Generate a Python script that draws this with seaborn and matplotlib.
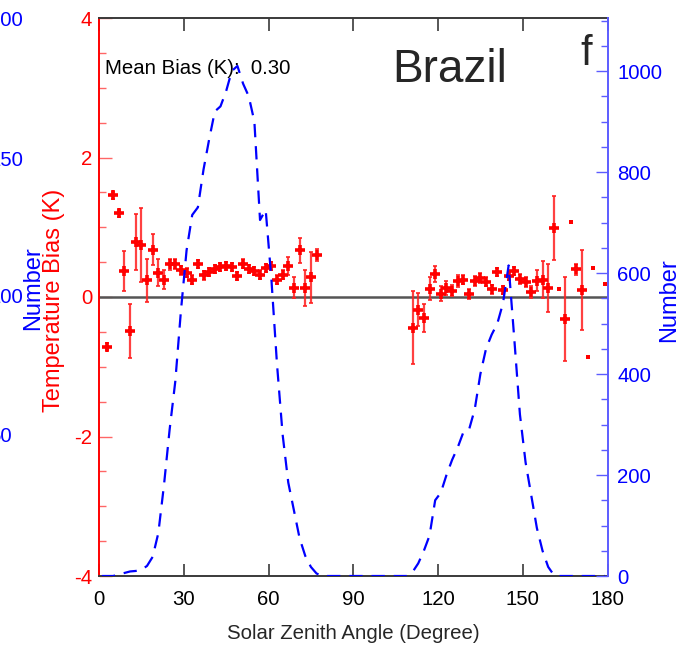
import matplotlib
matplotlib.use("Agg")
import matplotlib.pyplot as plt
from matplotlib import font_manager
from matplotlib.ticker import MultipleLocator
import pandas as pd
import seaborn as sns

# ---- temperature bias per 2-degree solar-zenith-angle bin ----
sza_bins = [3, 5, 7, 9, 11, 13, 15, 17, 19, 21, 23, 25, 27, 29, 31, 33, 35, 37, 39,
            41, 43, 45, 47, 49, 51, 53, 55, 57, 59, 61, 63, 65, 67, 69, 71, 73, 75, 77,
            111, 113, 115, 117, 119, 121, 123, 125, 127, 129, 131, 133, 135, 137, 139,
            141, 143, 145, 147, 149, 151, 153, 155, 157, 159, 161, 165, 169, 171]
bias = [-0.71, 1.46, 1.20, 0.37, -0.49, 0.79, 0.74, 0.24, 0.68, 0.35, 0.25, 0.47,
        0.47, 0.38, 0.35, 0.25, 0.47, 0.31, 0.36, 0.40, 0.43, 0.44, 0.43, 0.30, 0.48,
        0.40, 0.37, 0.32, 0.42, 0.44, 0.25, 0.32, 0.44, 0.13, 0.67, 0.13, 0.28, 0.60,
        -0.44, -0.18, -0.30, 0.12, 0.33, 0.05, 0.13, 0.09, 0.23, 0.25, 0.04, 0.23,
        0.27, 0.22, 0.11, 0.36, 0.10, 0.30, 0.37, 0.26, 0.22, 0.07, 0.23, 0.25, 0.13,
        0.99, -0.32, 0.40, 0.10]
bias_err = [0.05, 0.05, 0.05, 0.29, 0.39, 0.40, 0.53, 0.31, 0.22, 0.19, 0.13, 0.08,
            0.07, 0.07, 0.06, 0.06, 0.06, 0.06, 0.06, 0.06, 0.06, 0.06, 0.06, 0.06,
            0.06, 0.06, 0.06, 0.06, 0.06, 0.06, 0.06, 0.06, 0.13, 0.15, 0.18, 0.26,
            0.36, 0.09,
            0.52, 0.24, 0.20, 0.17, 0.11, 0.11, 0.10, 0.08, 0.08, 0.07, 0.07, 0.07,
            0.07, 0.06, 0.06, 0.06, 0.06, 0.06, 0.06, 0.07, 0.07, 0.09, 0.15, 0.27,
            0.35, 0.46, 0.60, 0.08, 0.57]

# bins holding a single match (no spread)
sza_single = [163, 167, 173, 175, 179]
bias_single = [0.11, 1.08, -0.86, 0.41, 0.18]

# ---- number of matches per bin ----
sza_count = list(range(1, 180, 2))
count = [0, 0, 0, 3, 6, 9, 10, 12, 20, 38,
         85, 180, 290, 385, 525, 645, 715, 730, 805, 865,
         920, 930, 960, 1000, 1010, 975, 950, 900, 705, 725,
         590, 420, 280, 185, 130, 75, 40, 18, 5, 0,
         0, 0, 0, 0, 0, 0, 0, 0, 0, 0,
         0, 0, 0, 0, 0, 8, 25, 50, 80, 150,
         165, 200, 230, 255, 285, 290, 330, 400, 450, 478,
         500, 540, 615, 470, 320, 225, 160, 95, 50, 18,
         2, 0, 0, 0, 0, 0, 0, 0, 0, 0]

xticks = [0, 30, 60, 90, 120, 150, 180]
left_ticks = [-4, -2, 0, 2, 4]
right_ticks = [0, 200, 400, 600, 800, 1000]
mean_bias = 0.30

sns.set_style("white")
installed = {f.name for f in font_manager.fontManager.ttflist}
narrow = "Liberation Sans Narrow" if "Liberation Sans Narrow" in installed else "Liberation Sans"
k = 1.0 if narrow == "Liberation Sans Narrow" else 0.84
plt.rcParams["font.family"] = [narrow, "DejaVu Sans"]
plt.rcParams["axes.unicode_minus"] = False

RED = "#ff0000"
BLUE = "#0000ff"
SPINE_BLUE = "#5c5cff"
DARK = "#3a3a3a"
fs = 17.5 * k
REG = ["Liberation Sans", "DejaVu Sans"]

fig = plt.figure(figsize=(6.81, 6.49), dpi=100)
ax = fig.add_axes([99 / 681, 73 / 649, 508.5 / 681, 558 / 649])

df = pd.DataFrame({"sza": sza_bins, "bias": bias, "err": bias_err})
df_single = pd.DataFrame({"sza": sza_single, "bias": bias_single})
df_count = pd.DataFrame({"sza": sza_count, "n": count})

ax.axhline(0, color="#555555", lw=1.8, zorder=1)
ax.errorbar(df["sza"], df["bias"], yerr=df["err"], fmt="none", ecolor="#ff2020",
            elinewidth=1.6, capsize=1.6, capthick=1.4, alpha=0.85, zorder=2)
sns.scatterplot(data=df, x="sza", y="bias", ax=ax, marker="+", s=60,
                linewidth=2.6, color=RED, zorder=3, legend=False)
sns.scatterplot(data=df_single, x="sza", y="bias", ax=ax, marker="s", s=6,
                linewidth=0, color=RED, zorder=3, legend=False)

ax.set_xlim(0, 180)
ax.set_ylim(-4, 4)
ax.set_xticks(xticks)
ax.set_yticks(left_ticks)
ax.yaxis.set_minor_locator(MultipleLocator(0.5))
ax.tick_params(axis="x", which="major", direction="in", top=True, bottom=True,
               length=9, width=1.2, color=DARK, labelsize=fs, labelcolor="black", pad=10)
ax.tick_params(axis="y", which="major", direction="in", left=True, right=False,
               length=9, width=1.0, color="#ff6666", labelsize=fs, labelcolor=RED, pad=5)
ax.tick_params(axis="y", which="minor", direction="in", left=True, right=False,
               length=5, width=1.0, color="#ff6666")
ax.set_xlabel("Solar Zenith Angle (Degree)", fontsize=fs, labelpad=11)
ax.set_ylabel("")
for side in ("top", "bottom"):
    ax.spines[side].set_color(DARK)
    ax.spines[side].set_linewidth(1.4)
ax.spines["left"].set_color(RED)
ax.spines["left"].set_linewidth(1.4)
ax.spines["right"].set_visible(False)

ax2 = ax.twinx()
sns.lineplot(data=df_count, x="sza", y="n", ax=ax2, color=BLUE, linewidth=1.6,
             errorbar=None, legend=False)
ax2.lines[-1].set_dashes((6, 4))
ax2.set_ylim(0, 1105)
ax2.set_yticks(right_ticks)
ax2.yaxis.set_minor_locator(MultipleLocator(50))
ax2.tick_params(axis="y", which="major", direction="in", right=True, left=False,
                length=9, width=1.0, color=SPINE_BLUE, labelsize=fs, labelcolor=BLUE, pad=7)
ax2.tick_params(axis="y", which="minor", direction="in", right=True, left=False,
                length=5, width=1.0, color=SPINE_BLUE)
ax2.set_ylabel("")
ax2.spines["left"].set_visible(False)
ax2.spines["top"].set_visible(False)
ax2.spines["bottom"].set_visible(False)
ax2.spines["right"].set_color(SPINE_BLUE)
ax2.spines["right"].set_linewidth(1.4)

# axis titles
fig.text(54 / 681, 1 - 300 / 649, "Temperature Bias (K)", rotation=90, color=RED,
         fontsize=17, family=REG, ha="center", va="center")
fig.text(669 / 681, 1 - 300 / 649, "Number", rotation=90, color=BLUE,
         fontsize=17, family=REG, ha="center", va="center")

# right-hand axis of the neighbouring panel, cut by the figure edge
fig.text(33 / 681, 1 - 288 / 649, "Number", rotation=90, color=BLUE,
         fontsize=17, family=REG, ha="center", va="center")
for ypix, lab in zip([20, 160, 298, 437], ["200", "150", "100", "50"]):
    fig.text(-10.5 / 681, 1 - ypix / 649, lab, color=BLUE, fontsize=fs,
             ha="left", va="center")

ax.text(0.012, 0.910, f"Mean Bias (K):  {mean_bias:.2f}", transform=ax.transAxes,
        fontsize=fs, color="black", ha="left", va="center")
ax.text(0.690, 0.907, "Brazil", transform=ax.transAxes, fontsize=33,
        family=REG, ha="center", va="center")
ax.text(0.958, 0.935, "f", transform=ax.transAxes, fontsize=30,
        family=REG, ha="center", va="center")

fig.savefig("out.png", dpi=100, facecolor="white")
